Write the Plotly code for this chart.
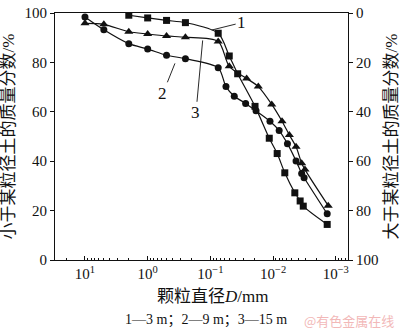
import numpy as np
import plotly.graph_objects as go

# Particle-size distribution curves (three sampling depths)
d1 = [2, 1, 0.5, 0.25, 0.075, 0.050, 0.0367, 0.0194, 0.0115, 0.0086, 0.0065, 0.0045, 0.0037, 0.0033, 0.00137]
p1 = [99.1, 98.0, 97.0, 96.1, 91.8, 82.6, 75.4, 62.2, 49.3, 43.1, 35.3, 27.2, 23.9, 21.8, 14.4]

d2 = [10, 5, 2, 1, 0.5, 0.25, 0.075, 0.0564, 0.0416, 0.0274, 0.0187, 0.0112, 0.0080, 0.0059, 0.0043, 0.0035, 0.0032, 0.00137]
p2 = [98.4, 93.2, 87.6, 85.4, 82.9, 81.5, 77.8, 70.2, 66.3, 63.4, 60.4, 56.2, 52.4, 47.1, 40.1, 35.0, 33.3, 18.7]

d3 = [10, 5, 2, 1, 0.5, 0.25, 0.075, 0.050, 0.0264, 0.0172, 0.0105, 0.0072, 0.0055, 0.0043, 0.0035, 0.0031, 0.00132]
p3 = [95.8, 95.4, 92.4, 91.5, 90.7, 90.2, 88.5, 78.4, 73.5, 70.2, 63.0, 56.2, 50.6, 45.8, 39.2, 36.6, 22.0]

# Curve labels: (text, label position D, %, curve point D, %)
curve_labels = [
    ("1", 10 ** -1.499, 96.1, 10 ** -1.021, 93.1),
    ("2", 10 ** -0.244, 67.5, 10 ** -0.435, 79.6),
    ("3", 10 ** -0.770, 59.6, 10 ** -0.877, 88.9),
]

x_major = [10, 1, 0.1, 0.01, 0.001]
x_major_text = ["10<sup>1</sup>", "10<sup>0</sup>", "10<sup>−1</sup>", "10<sup>−2</sup>", "10<sup>−3</sup>"]
x_minor = [m * 10.0 ** e for e in range(-4, 2) for m in range(2, 10)]
y_ticks = [0, 20, 40, 60, 80, 100]

FONT = "Liberation Serif, Noto Sans CJK SC, serif"
BLACK = "#111111"

fig = go.Figure()

series = [
    (d1, p1, "square", 7),
    (d2, p2, "circle", 7),
    (d3, p3, "triangle-up", 8),
]
for d, p, sym, sz in series:
    fig.add_trace(go.Scatter(
        x=d, y=p, mode="lines+markers",
        line=dict(color=BLACK, width=1.2, shape="spline", smoothing=0.8),
        marker=dict(symbol=sym, size=sz, color=BLACK),
        showlegend=False, hoverinfo="skip",
    ))

# invisible trace carrying the secondary (complementary) axis
fig.add_trace(go.Scatter(x=[1], y=[50], yaxis="y2", mode="markers",
                         marker=dict(opacity=0), showlegend=False, hoverinfo="skip"))

for txt, lx, ly, px, py in curve_labels:
    fig.add_annotation(
        x=np.log10(px), y=py, ax=np.log10(lx), ay=ly,
        xref="x", yref="y", axref="x", ayref="y",
        text=txt, showarrow=True, arrowhead=0, arrowwidth=0.9, arrowcolor=BLACK,
        font=dict(family=FONT, size=17, color=BLACK),
    )


def paper_text(x, y, text, size, color=BLACK, family=FONT, angle=0):
    fig.add_annotation(x=x, y=y, xref="paper", yref="paper",
                       xanchor="center", yanchor="middle", textangle=angle,
                       text=text, showarrow=False,
                       font=dict(family=family, size=size, color=color))


paper_text(0.539, -0.149, "颗粒直径<i>D</i>/mm", 17)
paper_text(0.515, -0.243, "1—3 m；2—9 m；3—15 m", 14)
paper_text(1.003, -0.243, "@有色金属在线", 13, color="#f2b8b8", family="Noto Sans CJK SC")
paper_text(-0.157, 0.5, "小于某粒径土的质量分数/%", 17, angle=-90)
paper_text(1.147, 0.5, "大于某粒径土的质量分数/%", 17, angle=-90)

fig.update_layout(
    width=400, height=332,
    margin=dict(l=55, r=52, t=5, b=72),
    paper_bgcolor="white", plot_bgcolor="white",
    font=dict(family=FONT, size=15, color=BLACK),
    xaxis=dict(
        type="log", range=[1.478, -3.195],
        tickmode="array", tickvals=x_major, ticktext=x_major_text,
        ticks="inside", ticklen=4, tickwidth=1, tickcolor=BLACK,
        minor=dict(tickmode="array", tickvals=x_minor, ticks="inside",
                   ticklen=2, tickwidth=1, tickcolor=BLACK, showgrid=False),
        showline=True, linecolor=BLACK, linewidth=1, mirror=True,
        showgrid=False, zeroline=False, ticklabeloverflow="allow",
        tickfont=dict(family=FONT, size=15, color=BLACK),
    ),
    yaxis=dict(
        range=[0, 100], tickvals=y_ticks,
        ticks="outside", ticklen=4, tickcolor=BLACK,
        showline=True, linecolor=BLACK, linewidth=1,
        showgrid=False, zeroline=False, ticklabeloverflow="allow",
        tickfont=dict(family=FONT, size=15, color=BLACK),
    ),
    yaxis2=dict(
        overlaying="y", side="right", range=[100, 0], tickvals=y_ticks,
        ticks="outside", ticklen=4, tickcolor=BLACK,
        showline=True, linecolor=BLACK, linewidth=1,
        showgrid=False, zeroline=False, ticklabeloverflow="allow",
        tickfont=dict(family=FONT, size=15, color=BLACK),
    ),
)

fig.write_html("out.html")
